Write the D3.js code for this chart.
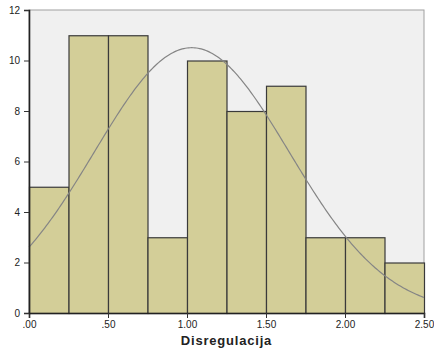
<!DOCTYPE html>
<html>
<head>
<meta charset="utf-8">
<script src="https://cdn.jsdelivr.net/npm/d3@7"></script>
<style>
  html, body { margin: 0; padding: 0; background: #ffffff; }
  svg { display: block; font-family: "Liberation Sans", Arial, sans-serif; }
</style>
</head>
<body>
<svg id="chart" width="434" height="355"></svg>
<script>
// Histogram bins (lower edges, width 0.25) and frequencies
const binStarts = [0.00, 0.25, 0.50, 0.75, 1.00, 1.25, 1.50, 1.75, 2.00, 2.25];
const binWidth = 0.25;
const counts = [5, 11, 11, 3, 10, 8, 9, 3, 3, 2];
const xTicks = [0, 0.5, 1.0, 1.5, 2.0, 2.5];
const yTicks = [0, 2, 4, 6, 8, 10, 12];
// Normal curve parameters
const curveMean = 1.03;
const curveSd = 0.617;
const xLabel = "Disregulacija";

const svg = d3.select("#chart");
const margin = { left: 29, right: 10, top: 10, bottom: 42 };
const W = 434, H = 355;

const x = d3.scaleLinear().domain([0, 2.5]).range([margin.left, W - margin.right]);
const y = d3.scaleLinear().domain([0, 12]).range([H - margin.bottom, margin.top]);

// Plot background
svg.append("rect")
  .attr("x", x(0)).attr("y", y(12))
  .attr("width", x(2.5) - x(0)).attr("height", y(0) - y(12))
  .attr("fill", "#f0f0f0")
  .attr("stroke", "#a0a0a0").attr("stroke-width", 1);

// Bars
svg.append("g").selectAll("rect")
  .data(binStarts.map((b, i) => ({ b, c: counts[i] })))
  .join("rect")
  .attr("x", d => x(d.b) + 0.5)
  .attr("y", d => y(d.c) + 0.5)
  .attr("width", d => x(d.b + binWidth) - x(d.b))
  .attr("height", d => y(0) - y(d.c))
  .attr("fill", "#d3ce98")
  .attr("stroke", "#3a3a3a")
  .attr("stroke-width", 1.2);

// Normal curve scaled to frequency
const total = d3.sum(counts);
const pdf = v => Math.exp(-0.5 * ((v - curveMean) / curveSd) ** 2) / (curveSd * Math.sqrt(2 * Math.PI));
const curvePts = d3.range(0, 2.5001, 0.01).map(v => [v, total * binWidth * pdf(v)]);
svg.append("path")
  .datum(curvePts)
  .attr("fill", "none")
  .attr("stroke", "#858585")
  .attr("stroke-width", 1.2)
  .attr("d", d3.line().x(d => x(d[0])).y(d => y(d[1])));

// Axes
const fmt = v => (v < 1 ? d3.format(".2f")(v).replace(/^0/, "") : d3.format(".2f")(v));
const xAxis = svg.append("g")
  .attr("transform", `translate(0,${y(0)})`)
  .call(d3.axisBottom(x).tickValues(xTicks).tickFormat(fmt).tickSizeOuter(0).tickSize(5));
const yAxis = svg.append("g")
  .attr("transform", `translate(${x(0)},0)`)
  .call(d3.axisLeft(y).tickValues(yTicks).tickFormat(d3.format("d")).tickSizeOuter(0).tickSize(5));

[xAxis, yAxis].forEach(g => {
  g.selectAll("text").attr("font-size", 10).attr("fill", "#222")
    .attr("font-family", "'Liberation Sans', Arial, sans-serif");
  g.selectAll("line").attr("stroke", "#333");
  g.select(".domain").attr("stroke", "#222").attr("stroke-width", 1.6);
});
yAxis.selectAll("text").attr("dx", "-0.1em");

svg.append("text")
  .attr("x", (x(0) + x(2.5)) / 2)
  .attr("y", 345)
  .attr("text-anchor", "middle")
  .attr("font-size", 13)
  .attr("font-weight", "bold")
  .attr("letter-spacing", 0.8)
  .attr("fill", "#222")
  .text(xLabel);
</script>
</body>
</html>
